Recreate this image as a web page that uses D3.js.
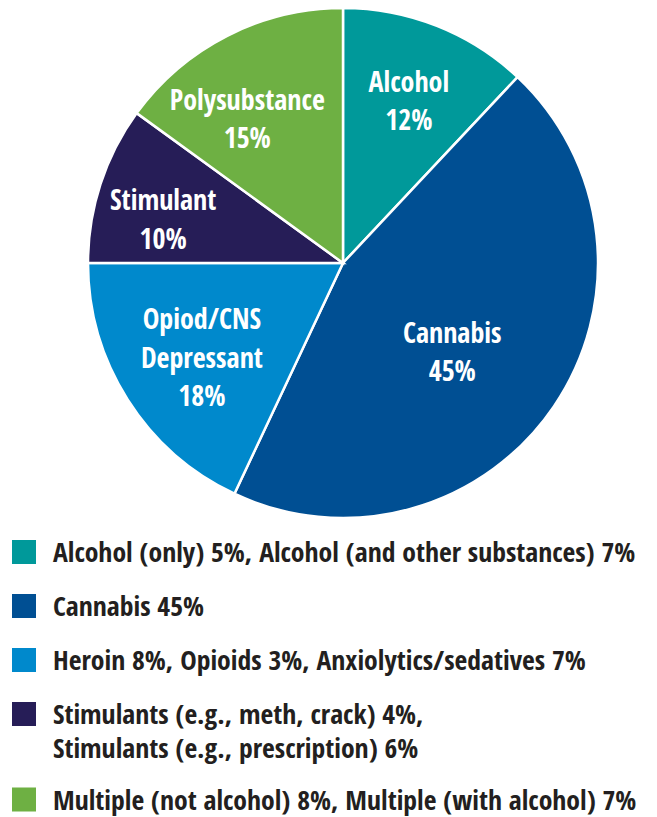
<!DOCTYPE html>
<html>
<head>
<meta charset="utf-8">
<script src="https://cdn.jsdelivr.net/npm/d3@7"></script>
<style>
  html, body { margin: 0; padding: 0; background: #fff; }
  svg { display: block; font-family: "Open Sans Condensed", "Roboto Condensed", sans-serif; font-weight: 700; }
</style>
</head>
<body>
<svg id="chart" width="657" height="817"></svg>
<script>
// Substance categories and their share of the total (%)
const categories = ["Alcohol", "Cannabis", "Opiod/CNS Depressant", "Stimulant", "Polysubstance"];
const labelLines = [["Alcohol"], ["Cannabis"], ["Opiod/CNS", "Depressant"], ["Stimulant"], ["Polysubstance"]];
const shares = [12, 45, 18, 10, 15];
const colors = ["#00999a", "#004f93", "#0089cc", "#261d57", "#6eb043"];

// Legend breakdown text, one entry per category (some wrap onto two lines)
const legendLines = [
  ["Alcohol (only) 5%, Alcohol (and other substances) 7%"],
  ["Cannabis 45%"],
  ["Heroin 8%, Opioids 3%, Anxiolytics/sedatives 7%"],
  ["Stimulants (e.g., meth, crack) 4%,", "Stimulants (e.g., prescription) 6%"],
  ["Multiple (not alcohol) 8%, Multiple (with alcohol) 7%"]
];

// Layout
const cx = 343, cy = 263, radius = 255;
const fontSize = 28, capHeight = 20, lineStep = 38.5;
// Label placement per slice: distance from centre and angular nudge (degrees)
const labelRadius = [175, 141, 170, 185, 173];
const labelNudge = [0.5, 5, -1.5, -4.4, -6.6];

const svg = d3.select("#chart");

const color = d3.scaleOrdinal().domain(categories).range(colors);

const pie = d3.pie().sort(null).value(d => d.value).startAngle(0).endAngle(2 * Math.PI);
const data = categories.map((c, i) => ({ name: c, value: shares[i], lines: labelLines[i], idx: i }));
const arcs = pie(data);

const arc = d3.arc().innerRadius(0).outerRadius(radius);

const g = svg.append("g").attr("transform", `translate(${cx},${cy})`);

g.selectAll("path.slice")
  .data(arcs)
  .join("path")
  .attr("class", "slice")
  .attr("d", arc)
  .attr("fill", d => color(d.data.name))
  .attr("stroke", "#fff")
  .attr("stroke-width", 2.5)
  .attr("stroke-linejoin", "miter");

// Slice labels: name line(s) followed by the percentage
g.selectAll("text.slice-label")
  .data(arcs)
  .join("text")
  .attr("class", "slice-label")
  .attr("fill", "#fff")
  .attr("font-size", fontSize)
  .attr("text-anchor", "middle")
  .each(function (d) {
    const i = d.data.idx;
    const mid = (d.startAngle + d.endAngle) / 2 + labelNudge[i] * Math.PI / 180;
    const lx = Math.sin(mid) * labelRadius[i];
    const ly = -Math.cos(mid) * labelRadius[i];
    const lines = d.data.lines.concat([d.data.value + "%"]);
    const blockH = capHeight + (lines.length - 1) * lineStep;
    const firstBase = ly - blockH / 2 + capHeight;
    const t = d3.select(this);
    lines.forEach((ln, k) => {
      t.append("tspan")
        .attr("x", lx)
        .attr("y", firstBase + k * lineStep)
        .text(ln);
    });
  });

// Legend: a swatch per category, each wrapped line drawn as its own text
const legendX = 12, legendTextX = 53, swatch = 24, legendFont = 27.7;
const rowStep = 54, wrapStep = 33.5;
let rowTop = 540;
const legend = svg.append("g").attr("class", "legend");
categories.forEach((c, i) => {
  const row = legend.append("g");
  row.append("rect")
    .attr("x", legendX)
    .attr("y", rowTop)
    .attr("width", swatch)
    .attr("height", swatch)
    .attr("fill", color(c));
  legendLines[i].forEach((ln, k) => {
    row.append("text")
      .attr("fill", "#231f20")
      .attr("font-size", legendFont)
      .attr("x", legendTextX)
      .attr("y", rowTop + 22 + k * wrapStep)
      .text(ln);
  });
  rowTop += rowStep + (legendLines[i].length - 1) * wrapStep - (i === 3 ? 2 : 0);
});
</script>
</body>
</html>
